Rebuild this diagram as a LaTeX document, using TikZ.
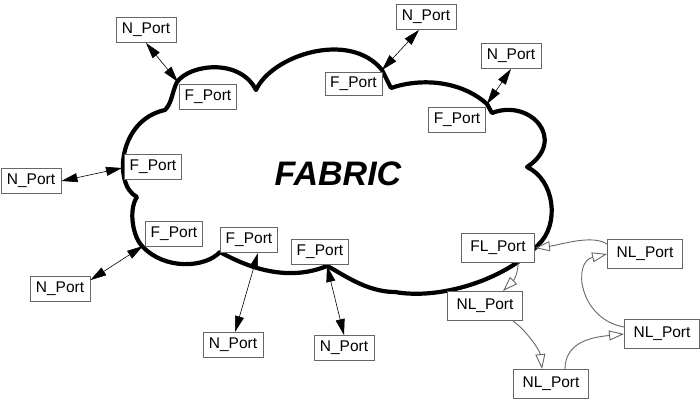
\documentclass[tikz,border=0pt]{standalone}
\usepackage{fontspec}
\setmainfont{Liberation Sans}
\usetikzlibrary{arrows.meta,calc}
\begin{document}
\begin{tikzpicture}[x=1pt,y=-1pt,
  port/.style={draw=black!60, fill=white, line width=0.9pt, font=\fontsize{15.5}{18}\selectfont, inner sep=0pt, minimum height=25pt},
  nport/.style={port, minimum width=60pt},
  fport/.style={port, minimum width=57pt},
  lport/.style={port, minimum width=75pt, minimum height=29pt},
  dbl/.style={line width=0.6pt, {Triangle[length=16pt,width=9pt]}-{Triangle[length=16pt,width=9pt]}},
  loopar/.style={draw=black!60, line width=0.9pt, -{Triangle[open,length=15pt,width=10pt]}},
  cloudline/.style={line width=4.2pt, line join=round}
]
\useasboundingbox (0,0) rectangle (700,402);

\draw[cloudline] (177,82) .. controls (190,64) and (240,58) .. (256,90)
 .. controls (272,55) and (350,30) .. (382,70)
 -- (391,88)
 .. controls (420,78) and (460,80) .. (487,104)
 -- (492,113)
 .. controls (530,98) and (568,140) .. (527,167)
 .. controls (555,180) and (560,225) .. (538,245)
 .. controls (505,280) and (440,300) .. (395,292)
 .. controls (365,292) and (340,272) .. (327,266)
 .. controls (305,275) and (270,280) .. (220,252)
 .. controls (205,268) and (165,270) .. (143,247)
 .. controls (133,238) and (128,210) .. (137,197)
 .. controls (113,185) and (118,120) .. (165,110)
 .. controls (172,103) and (172,92) .. (177,82) -- cycle;

\node[font=\fontsize{34}{38}\selectfont\bfseries\itshape] (fab) at (338,174) {FABRIC};

\coordinate (j1) at (178,82);
\coordinate (j2) at (122,168);
\coordinate (j3) at (382,70);
\coordinate (j4) at (487,104);
\coordinate (j5) at (143,246);
\coordinate (j7) at (327,266);

\node[nport] (n1) at (146,30) {N\_Port};
\node[fport] (f1) at (208,97) {F\_Port};
\node[nport] (n2) at (426,17) {N\_Port};
\node[fport, minimum height=23pt] (f2) at (353.5,83.5) {F\_Port};
\node[nport] (n3) at (511,56) {N\_Port};
\node[fport] (f3) at (457,120) {F\_Port};
\node[fport] (f4) at (153,167) {F\_Port};
\node[nport] (n4) at (31,181) {N\_Port};
\node[fport] (f5) at (174,234) {F\_Port};
\node[nport] (n5) at (60,289) {N\_Port};
\node[fport] (f6) at (249,240) {F\_Port};
\node[nport] (n6) at (233,345) {N\_Port};
\node[fport] (f7) at (320,252) {F\_Port};
\node[nport] (n7) at (344,348) {N\_Port};
\node[lport, minimum width=73pt] (fl) at (498,248) {FL\_Port};
\node[lport] (la) at (645,254) {NL\_Port};
\node[lport] (lb) at (485,306) {NL\_Port};
\node[lport] (lc) at (662,334) {NL\_Port};
\node[lport] (ld) at (551,384) {NL\_Port};

\draw[dbl] (n1.south) -- (j1);
\draw[dbl] (n4.east) -- (j2);
\draw[dbl] ($(n2.south)+(-7,0)$) -- (j3);
\draw[dbl] (n3.south) -- (j4);
\draw[dbl] ($(n5.north east)+(0,4)$) -- (j5);
\draw[dbl] ($(f6.south)+(9,0)$) -- ($(n6.north)+(2,0)$);
\draw[dbl] (j7) -- (n7.north);

\draw[loopar] ($(la.north west)+(0,5)$) .. controls +(-15,-10) and +(25,-3) .. (fl.east);
\draw[loopar] ($(fl.south)+(20,0)$) .. controls +(0,12) and +(10,-10) .. ($(lb.north)+(18,0)$);
\draw[loopar] ($(lb.south)+(28,0)$) .. controls +(14,10) and +(-2,-18) .. ($(ld.north)+(-9,0)$);
\draw[loopar] ($(ld.north)+(14,0)$) .. controls +(0,-28) and +(-30,3) .. (lc.west);
\draw[loopar] ($(lc.west)+(0,-7)$) .. controls +(-45,-8) and +(-35,8) .. (la.west);
\end{tikzpicture}
\end{document}
